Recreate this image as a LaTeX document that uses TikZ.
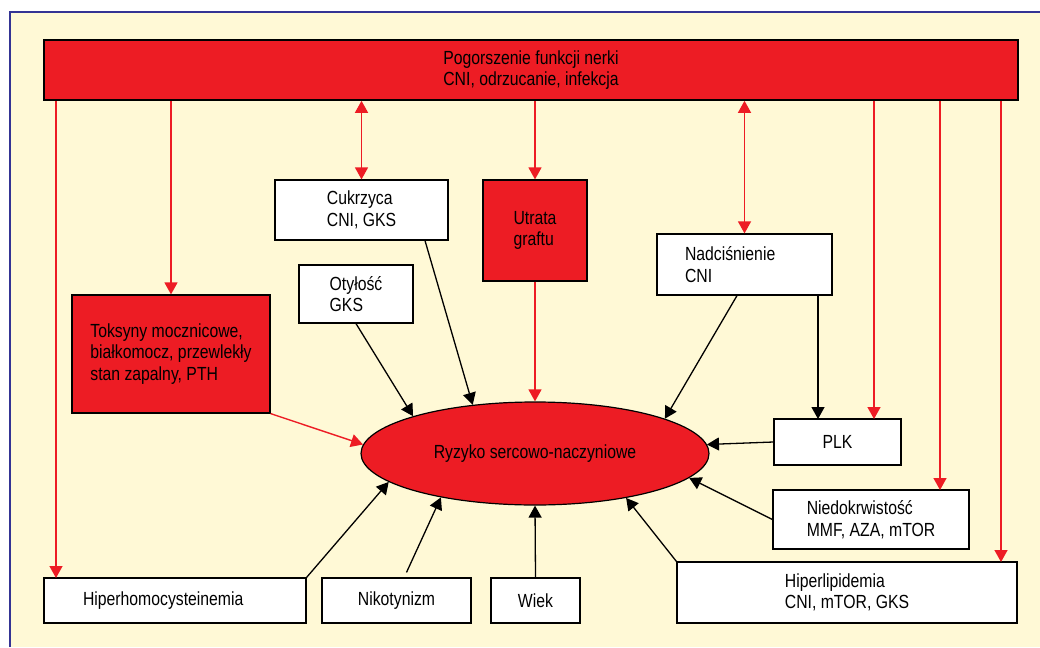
\documentclass[tikz,border=0pt]{standalone}
\usepackage{fontspec}
\setmainfont[FakeStretch=0.83]{Liberation Sans}
\usetikzlibrary{arrows.meta,shapes.geometric}
\definecolor{fillred}{RGB}{237,28,36}
\definecolor{cream}{RGB}{255,249,214}
\definecolor{frameblue}{RGB}{52,52,148}

\begin{document}
\begin{tikzpicture}[x=1pt,y=-1pt,
    box/.style={draw,line width=1.2pt,inner sep=0pt,align=left,font=\fontsize{19}{21.5}\selectfont},
    wbox/.style={box,fill=white},
    rbox/.style={box,fill=fillred},
    tip/.style={-{Triangle[length=12pt,width=13pt]}},
    blk/.style={tip,line width=1.3pt},
    redarr/.style={tip,line width=1.4pt,fillred}]
                \useasboundingbox (0,0) rectangle (1040,647);
                \fill[cream] (10,12) rectangle (1040,647);
                \draw[frameblue,line width=2.5pt] (10,647) -- (10,12) -- (1040,12);

                \node[rbox,line width=1.6pt,minimum width=974pt,minimum height=60pt] (top) at (531,70) {Pogorszenie funkcji nerki\\CNI, odrzucanie, infekcja};
                \foreach \x/\y/\w/\h/\n/\t in {535/230.5/104/101/utr/{Utrata\\graftu}, 171/354/198/118/tok/{Toksyny mocznicowe,\\białkomocz, przewlekły\\stan zapalny, PTH}}
                \node[rbox,minimum width=\w pt,minimum height=\h pt] (\n) at (\x,\y) {\t};
                \foreach \x/\y/\w/\h/\n/\t in {361.5/210/173/60/cuk/{Cukrzyca\\CNI, GKS}, 356/294/114/58/oty/{Otyłość\\GKS}, 837.5/442/127/46/plk/PLK, 871/519.5/196/59/nie/{Niedokrwistość\\MMF, AZA, mTOR}, 847/592.5/340/61/hpl/{Hiperlipidemia\\CNI, mTOR, GKS}, 396.5/600.5/149/45/nik/Nikotynizm, 535.5/600.5/89/45/wie/Wiek}
                \node[wbox,minimum width=\w pt,minimum height=\h pt] (\n) at (\x,\y) {\t};
                \node[wbox,text width=119pt,inner xsep=28pt,minimum height=61pt] (nad) at (744.5,264.5) {Nadciśnienie\\CNI};
                \node[wbox,text width=184pt,inner xsep=39pt,minimum height=45pt] (hhc) at (175,600.5) {Hiperhomocysteinemia};
                \node[box,ellipse,fill=fillred,minimum width=348pt,minimum height=103pt] (ell) at (535,453.5) {Ryzyko sercowo-naczyniowe};

                \coordinate (hhcin) at (56,578);
                \coordinate (plkr) at (874,419);
                \coordinate (niein) at (940,490);
                \coordinate (hplin) at (1001,562);
                \coordinate (plkin) at (818,419);

                \foreach \t in {hhcin, tok, utr, plkr, niein, hplin}
                \draw[redarr] (top.south -| \t) -- (\t);
                \foreach \t in {cuk, nad}
                \draw[redarr,{Triangle[length=12pt,width=13pt]}-{Triangle[length=12pt,width=13pt]}] (top.south -| \t) -- (\t);
                \draw[redarr] (tok.south east) -- (ell.177.5);
                \draw[redarr] (utr) -- (ell);

                \foreach \s/\a in {oty.south/163.6, nie.west/351.3, hpl.north west/334.7, hhc.north east/191.2, plk.west/3.9}
                \draw[blk] (\s) -- (ell.\a);
                \draw[blk] ([xshift=63.5pt]cuk.south) -- (ell.142.8);
                \draw[blk] ([xshift=-7.5pt]nad.south) -- (ell.15.8);
                \draw[blk] (nad.south -| plkin) -- (plkin);
                \draw[blk] ([xshift=10pt,yshift=5pt]nik.north) -- (ell.205.8);
                \draw[blk] (wie.north) -- (ell.south);

            \end{tikzpicture}
\end{document}
